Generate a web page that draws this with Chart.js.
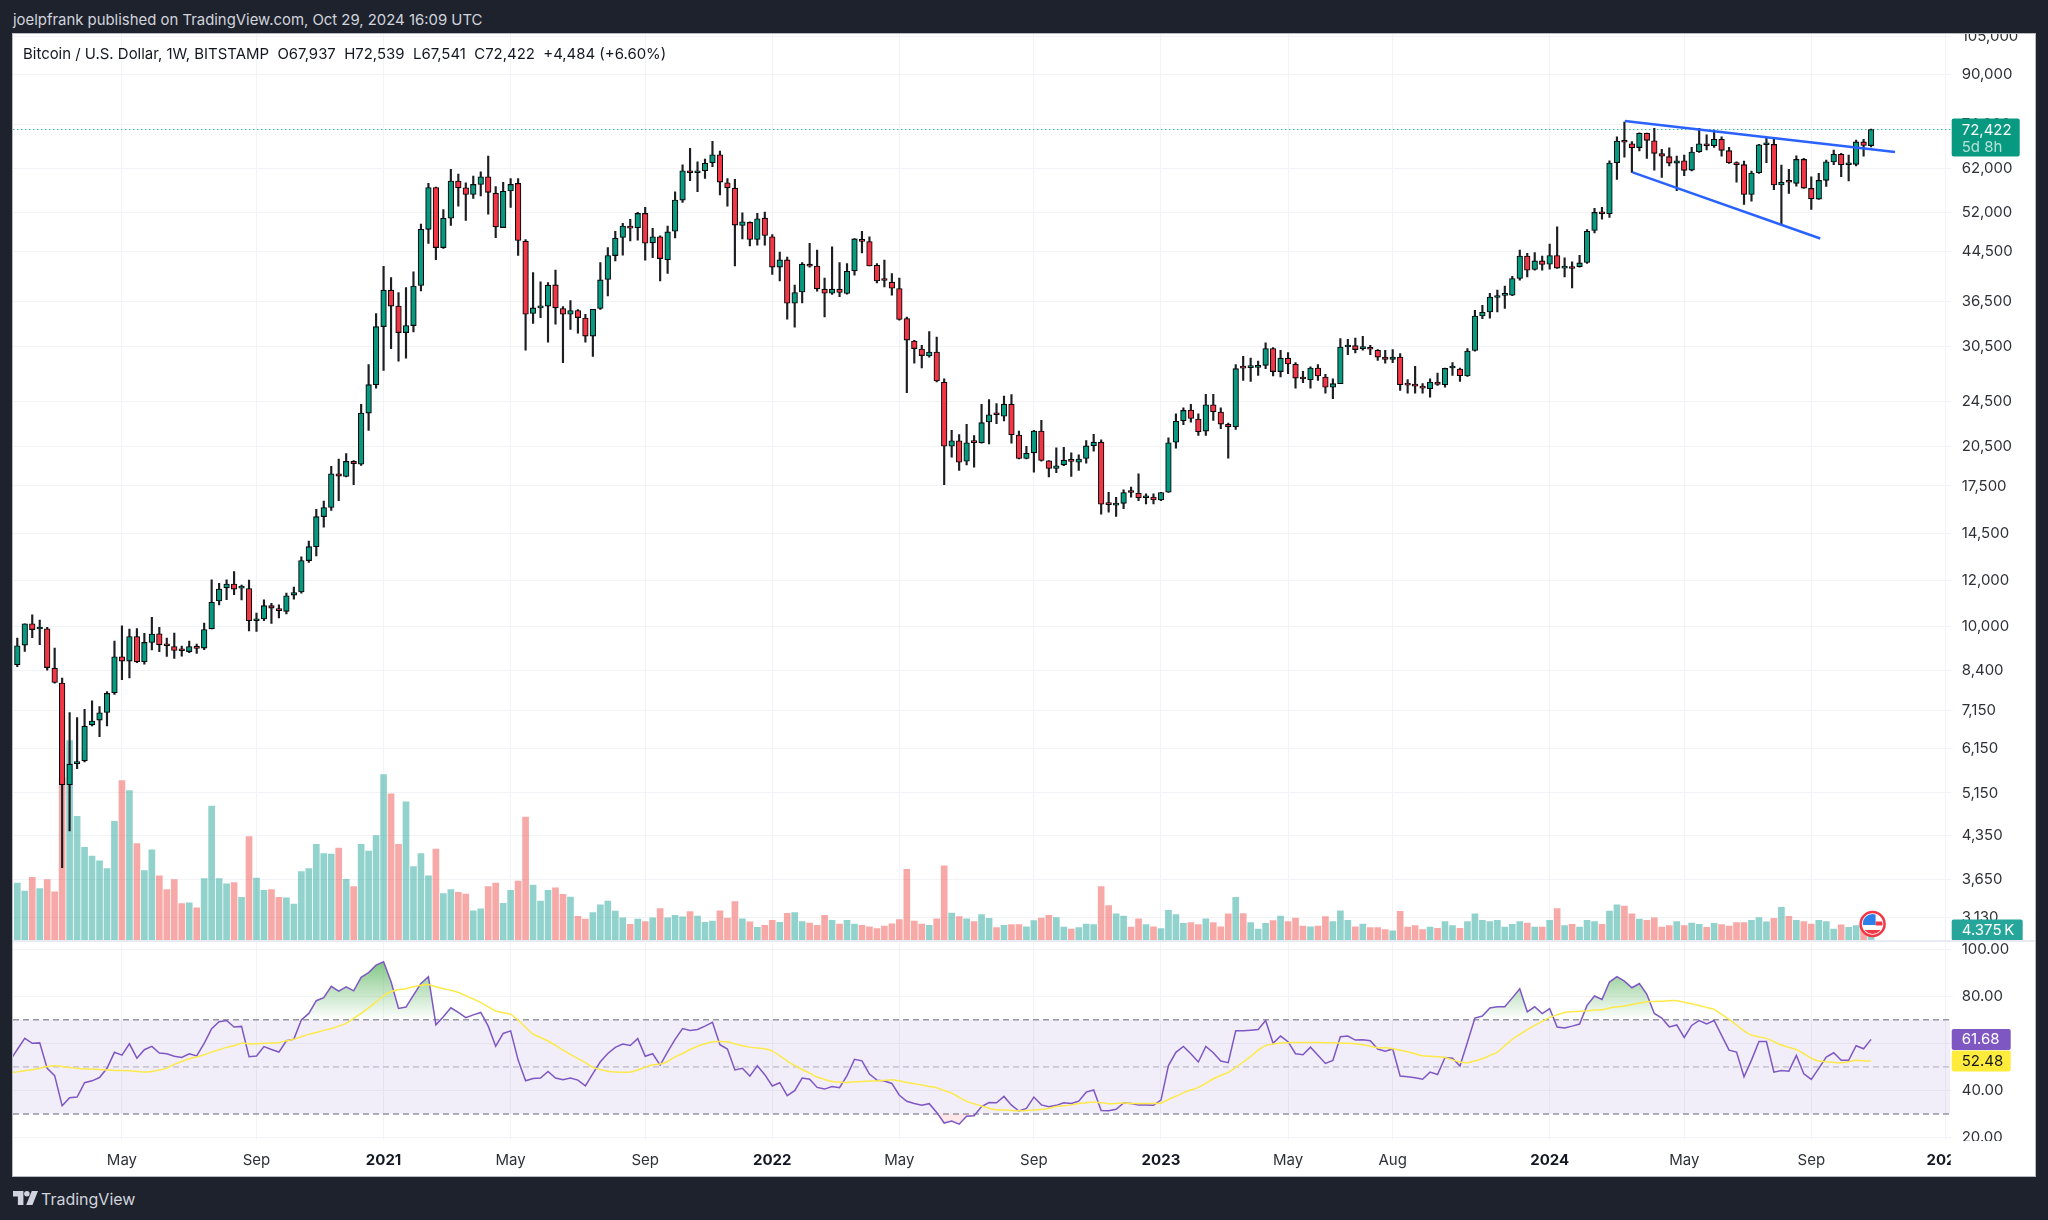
<!DOCTYPE html>
<html>
<head>
<meta charset="utf-8">
<title>Bitcoin / U.S. Dollar, 1W</title>
<script src="https://cdn.jsdelivr.net/npm/chart.js@4"></script>
<style>
    html, body { margin: 0; padding: 0; background: #1e222d; width: 2048px; height: 1220px; overflow: hidden; }
    body { font-family: Inter, "Noto Sans", sans-serif; position: relative; }
    #topLine { position: absolute; left: 13px; top: 11px; color: #d1d4dc; font-size: 14.9px; line-height: 18px; white-space: pre; }
    #pane { position: absolute; left: 13px; top: 34px; width: 2022px; height: 1142px; background: #fff; box-shadow: 0 0 0 1px #b8bac2; }
    #divider { position: absolute; left: 13px; top: 940px; width: 2022px; height: 2px; background: #e8ebf2; }
    canvas { position: absolute; left: 13px; }
    #priceCanvas { top: 34px; }
    #rsiCanvas { top: 942px; }
    #legendLine { position: absolute; left: 23px; top: 45px; color: #131722; font-size: 14.95px; line-height: 18px; white-space: pre; }
    #brand { position: absolute; left: 13px; top: 1189px; color: #d1d4dc; font-size: 16px; line-height: 20px; }
    #brand svg { position: absolute; left: 0; top: 2px; }
    #brand span { position: absolute; left: 28px; white-space: nowrap; }
</style>
</head>
<body>
<div id="topLine">joelpfrank published on TradingView.com, Oct 29, 2024 16:09 UTC</div>
<div id="pane"></div>
<canvas id="priceCanvas" width="2022" height="906"></canvas>
<div id="divider"></div>
<canvas id="rsiCanvas" width="2022" height="234"></canvas>
<div id="legendLine">Bitcoin / U.S. Dollar, 1W, BITSTAMP  O67,937  H72,539  L67,541  C72,422  +4,484 (+6.60%)</div>
<div id="brand">
    <svg width="25" height="14" viewBox="0 0 36 20"><path fill="#d1d4dc" d="M0 0h15v20H7V8H0z"/><circle fill="#d1d4dc" cx="20" cy="4" r="4"/><path fill="#d1d4dc" d="M27 0h9l-8 20h-9z"/></svg>
    <span>TradingView</span>
</div>

<script>
// Weekly candles, one entry per week, first week is 27 Jan 2020
const opens = [
    8583,9285,10107,9900,9905,8470,7980,5324,5790,5853,
    6756,6885,7096,7676,8860,8712,9606,8687,9382,9710,
    9295,9230,9100,9045,9246,9172,9905,11067,11664,11842,
    11650,11630,10230,10300,10865,10730,10620,11330,11470,13000,
    13740,15490,16060,18373,18180,19300,19090,23400,26200,33020,
    38180,35840,32240,33160,38900,48660,57490,45250,50850,58980,
    57410,55920,58190,59990,56200,49000,56700,58430,46410,34790,
    35580,35840,39000,35500,34690,35200,34170,31800,35500,39840,
    43830,47100,49300,48960,51840,46100,47230,43120,48290,54670,
    61450,60960,61450,63440,65500,58570,57340,49420,50020,46730,
    50880,47230,41860,43070,36240,37920,42350,42050,38340,37720,
    38340,37680,41240,46760,46360,42170,39760,39420,38440,34100,
    31180,30210,29370,29840,26450,20500,20950,19320,20840,20790,
    22580,23300,23110,24250,21440,19530,19970,21780,19350,18770,
    19040,19370,19240,19530,20550,20840,16270,16220,16330,17100,
    17000,16700,16750,16550,17070,20840,22700,23680,22850,21780,
    24190,23490,22370,22160,28050,28050,28080,28300,30260,27600,
    29120,28420,26950,26730,28000,27020,25940,26310,30450,30610,
    30250,30300,30050,29250,28980,29250,26200,26100,26050,25790,
    26480,26200,28000,27880,27120,30020,34450,35010,37080,37400,
    37430,40000,43760,41470,42910,42350,43830,41700,41860,41950,
    42640,48440,52180,51770,63430,69180,68430,67400,71330,69250,
    65780,65000,63350,63950,61620,66290,68430,67880,69640,66560,
    63280,62960,55920,60960,68150,68260,58050,58910,58430,64300,
    57270,54890,59140,63620,65600,62930,63030,68920,67937
];
const highs = [
    9545,10107,10469,10256,9960,9172,8138,7096,6952,7190,
    7436,7267,7716,9435,10025,9893,9915,9725,10365,9960,
    9550,9740,9246,9435,9320,10136,12040,11870,12040,12440,
    11793,12030,10550,11124,10960,10900,11420,11700,13200,14050,
    15950,16480,18930,19490,19920,19370,24220,28380,34790,42000,
    40150,37830,38580,41060,49670,58430,57600,52650,61820,60640,
    58570,60150,61200,65140,57720,58690,59580,59580,46730,40970,
    39470,39370,41350,35750,36630,35350,34690,35390,42640,45250,
    48290,49820,50620,52050,53100,48830,47400,49300,56520,62930,
    67180,63700,64390,69100,66480,59580,59380,51970,50140,51840,
    52110,47670,44420,43560,38950,42640,46000,44780,40060,45380,
    42640,42460,46910,48290,47230,42460,43030,40800,40050,34310,
    31270,30640,32370,31680,26820,21840,21470,22370,21400,24220,
    24680,24290,25030,25180,21780,20500,21840,22730,19370,20370,
    20420,19980,19810,20980,21490,21040,17070,16730,17240,17430,
    18370,16960,16960,17070,21200,23330,23900,24220,23330,25220,
    25220,23900,22490,28380,29340,29120,28790,30950,30380,30050,
    29770,28610,27630,28120,28380,27300,26820,31480,31400,31560,
    31770,30650,30130,30050,30130,29660,26730,28190,26310,26820,
    27450,28000,28610,28000,30250,35250,35940,37720,38180,38810,
    40330,44780,44200,44370,43760,45860,49140,43430,42740,43880,
    48630,52900,53100,63950,70350,74600,68990,71500,71400,72750,
    66930,67340,65150,65420,67440,72750,70900,72280,70350,67440,
    63700,63870,61380,68260,70050,70220,62870,61790,65230,64570,
    59990,60800,64130,66740,65860,65420,69460,69640,72539
];
const lows = [
    8523,9050,9565,9295,8400,7980,3823,4427,5672,5830,
    6729,6447,6729,7624,8090,8146,8652,8607,9110,9040,
    8870,8800,8885,9005,8980,9120,9905,10900,11124,11350,
    11110,9820,9800,10230,10120,10350,10510,11150,11420,12900,
    13250,14850,15870,16510,18150,17590,19000,21840,25840,27740,
    30240,28770,29120,32320,38070,46000,43120,45100,49420,53360,
    50400,55050,55590,51690,47090,48960,53100,43840,30050,33430,
    34230,31050,33330,28610,32670,32180,31050,29330,35350,37320,
    42910,43880,46470,46600,43030,43470,39620,40800,47020,54170,
    59040,56520,59580,62450,55800,53360,42050,46830,45540,45670,
    45670,40640,39620,34000,32960,36290,41860,38030,34310,37540,
    37190,37580,40530,44300,42050,39300,38700,37430,33870,25390,
    28560,28010,29250,26480,17590,19620,18620,19040,18870,20760,
    20700,22430,22670,20760,19490,19490,18490,19320,18150,18450,
    18970,18180,18620,19170,20100,15640,15760,15500,15980,16730,
    16510,16300,16300,16510,17050,20340,22340,22570,21400,21400,
    22730,22000,19550,21920,26660,26550,27190,27930,27120,27020,
    27380,25840,26420,25840,26660,25340,24780,26310,29540,29730,
    30050,29540,28870,28560,28590,25620,25340,25340,25340,24930,
    26130,25940,27190,26550,27090,29930,34100,34140,35010,35500,
    37360,39730,40260,41350,41350,41510,41620,40260,38530,41860,
    42460,47980,50680,51020,59370,64860,61050,66480,64570,61620,
    59820,62630,56740,60240,61380,66130,66740,67440,65150,63280,
    58690,53730,54450,60800,63440,57000,49620,56140,57790,57270,
    52650,54840,57720,62960,59990,58980,62630,65150,67541
];
const closes = [
    9258,10107,9875,9933,8489,7998,5324,5776,5830,6722,
    6858,7088,7658,8860,8712,9606,8687,9382,9700,9295,
    9258,9088,9077,9230,9160,9875,11008,11604,11842,11604,
    11700,10230,10270,10865,10760,10650,11300,11450,13000,13740,
    15490,16060,18373,18200,19300,19120,23400,26200,33020,38180,
    35840,32240,33160,38810,48660,57490,45250,50850,58980,57410,
    55920,58190,59990,56380,49140,56610,58190,46540,34690,35580,
    35840,38950,35580,34690,35200,34230,31800,35390,39780,43830,
    46970,49300,48900,51840,46040,47230,43310,48170,54670,61450,
    60960,61200,63290,65500,58740,57410,49480,50140,46730,50740,
    47490,41860,43070,36240,37830,42350,42000,38380,37720,38340,
    37830,41180,46830,46360,42050,39620,39680,38490,33970,31300,
    30250,29420,29840,26590,20500,20950,19240,20790,20800,22520,
    23240,23240,24250,21470,19530,19940,21780,19370,18770,18970,
    19400,19300,19490,20530,20840,16270,16250,16330,17050,17050,
    16690,16720,16550,17050,20790,22640,23650,22900,21730,24190,
    23530,22390,22160,27930,27990,28080,28220,30260,27600,29120,
    28450,26900,26800,28000,27120,25940,26310,30450,30650,30130,
    30300,30170,29250,28980,29250,26200,26150,26050,25840,26480,
    26240,27960,28010,27160,29970,34450,34970,37150,37300,37430,
    40000,43760,41350,42910,42300,43830,41700,41760,41620,42560,
    48290,52050,51770,63350,69180,68850,67310,71330,69360,65860,
    65110,63350,63950,61540,66210,68430,67880,69640,66660,63430,
    62960,55920,60880,68150,68350,58050,58690,58700,64300,57340,
    54950,59140,63700,65600,62930,63030,68920,67950,72422
];
// Volume in thousands
const volumes = [
    24.9,21.4,27.4,22.5,26.4,21.1,71,87.2,54.1,40.5,
    36.7,34.6,31.2,51.9,69.7,65.3,42.1,30.3,39.4,28.1,
    22,26.4,15.9,16.2,14.1,26.8,58.5,26.8,24.5,25.1,
    18.7,45.2,27.1,21.7,22,18.7,18.4,15.7,29.9,31.2,
    41.8,37.8,37.5,40.2,26.5,23.3,41.8,38.9,45.6,72.3,
    63.9,41.8,60.4,32.1,37.8,28.1,39.7,20.3,22,20.8,
    20.1,12.7,13.6,23.3,24.9,16,21.7,25.7,53.7,24,
    17,21.7,22.8,20,18.8,10.3,9.1,12,15.4,17,
    12.6,9.7,6.9,9.1,8,9.7,13.7,9.7,10.8,10.1,
    12.4,10.5,7.7,8.3,12.7,9.6,16.8,9.2,7.9,5.5,
    6.4,8.6,7.7,11.7,12,8,7.4,6.4,10.8,8.6,
    7,8.6,7,6.4,5.8,5,6.1,7.1,8.9,30.9,
    8.3,7,6.4,9.2,32.4,11.8,10.2,9.3,8,11.1,
    9.5,5.4,6.4,6.7,6.7,5.8,8.5,9.6,10.8,9.8,
    5.7,4.8,5.4,7,6.7,23.3,15,11.4,10.5,5.7,
    9.2,6.7,5.8,5,13,11.1,7.3,7.6,6.7,9.2,
    7.6,5.8,11.4,18.7,11.5,7.6,4.8,7.3,8.5,10.5,
    8,9.6,6.1,5.8,6.1,10.2,8,12.7,8.6,5.8,
    7,5.4,5.4,4.6,4,12.5,5.7,6.3,4.6,5.7,
    5.1,8,6.3,5.1,8,11.4,8.6,8,8.6,5.7,
    6.8,8,7.4,5.7,5.7,8.6,13.7,6.3,6.8,5.7,
    8.6,8,6.8,12.6,15.4,14.8,11.4,9.1,8.6,9.7,
    5.7,6.3,8,6.3,7.4,6.8,5.5,7.3,6.7,6.1,
    7.6,7.6,8.6,9.8,7.9,9.5,14.3,10.4,8.6,8,
    7,8.6,8,4.8,6.6,5.5,6.3,5.5,4.375
];
const rsiValues = [
    57.4,62.1,60,60.2,49.4,46.3,33.5,36.9,37.2,43.3,
    44.1,45.5,49.4,56.2,55,59.8,53.7,57.3,58.7,55.9,
    55.6,54.5,54,55.6,54.7,60,66.2,69.2,69.7,66.9,
    67.2,54.3,54.6,58.6,57.4,56.3,61.1,61.8,69.9,72.7,
    78.1,79.4,84.2,82.2,84,82.3,88,90,93.2,94.6,
    86.1,74.8,75.4,80.5,85.4,88.3,67.9,71.3,75.1,73.1,
    70.9,72.1,73.1,67.3,58.8,64.2,65.3,52.9,44.1,45.1,
    45.3,48.1,45.3,44.6,45.3,44.4,42,47.2,52.2,55.7,
    58.3,59.7,59.1,62,54.5,55.6,50.8,56.4,61.7,66.3,
    65.5,65.9,67.3,68.9,59.4,57.6,48.7,49.4,46.1,50.5,
    46.7,41.9,43.3,37.8,39.9,45.3,44.8,41.3,40.6,41.7,
    41.2,46.3,53.2,52.6,47,44.4,44,43,38,35.4,
    34.5,33.7,34.4,30.7,26.2,27,25.7,29.1,29.3,33.2,
    34.9,34.8,37.5,33.8,31.3,32.4,37.2,33.9,33.1,33.7,
    34.8,34.5,35.5,39.3,40.2,31.5,31.4,32,34.7,34.5,
    33.8,33.9,33.7,35.9,50.6,56.2,58.7,55.6,52.1,58.7,
    56,52.5,51.8,65.3,65.3,65.6,65.9,69.7,60,63.1,
    60.7,55.6,55.2,58.4,55,51.5,52.8,62.8,63.1,61.4,
    61.5,61.1,57.6,56.7,57.6,46.1,45.8,45.4,44.8,47.8,
    46.8,54,53.7,50.4,60.5,70.7,71.6,75,75.5,75.5,
    79.3,83.2,73.4,75.5,72.6,74.7,66.9,66.5,67.3,68.2,
    76.1,80.1,78.6,86,88.3,86.4,83.6,85.4,80.8,72.7,
    70.7,67,67.8,62.5,67.6,69.7,68.2,69.7,63.4,57.1,
    56.3,45.8,52.9,60.8,60.8,47.8,48.5,48.2,54.9,47.1,
    44.7,49.4,54.2,56,52.8,52.8,59,57.7,61.68
];
const rsiMa = [
    47.9,48.4,48.8,49.4,50.2,50.5,50.2,49.8,49.4,49.1,
    49.1,48.9,48.7,48.5,48.5,48.4,48.1,47.8,48.1,48.7,
    49.5,51.1,52.3,53.5,54.2,55.2,56.3,57.3,58.3,59,
    60.1,59.8,59.8,60,60.1,60.3,61.1,61.8,62.8,63.8,
    64.6,65.5,66.3,67.3,68.5,70.6,72.7,75.1,77.5,80.2,
    81.9,82.7,83.2,84,84.7,85,84,83.2,82.5,81.6,
    80.2,78.8,77.4,75.5,73.7,73,72.3,69.9,66.8,63.9,
    62.5,61,59.1,57.1,55.3,53.5,51.8,49.8,48.9,48.2,
    47.8,47.7,47.8,48.7,49.9,50.9,51.2,52.3,54.3,55.7,
    57.4,58.8,59.8,60.7,60.8,60.7,59.8,59,58.4,58,
    57.7,56.7,54.7,52.5,50.6,48.9,47.4,45.7,44.7,43.8,
    43.6,43.4,43.7,43.8,44,44,44.3,44.6,44.1,43.4,
    42.9,42.3,41.7,41.2,40,38.9,37.1,35.4,34.4,33.4,
    32.5,31.8,31.7,31.5,31.4,31.5,31.7,32,32.4,33.2,
    33.5,33.9,34.5,34.8,35.1,34.8,34.4,34.5,34.7,34.5,
    34.5,34.5,34.5,34.7,36.2,37.6,39,40.2,41.3,43,
    45,46.4,47.7,49.8,52.1,54.5,57.1,59.1,59.7,60.1,
    60.3,60.4,60.4,60.4,60.4,60.3,60.3,60.1,60,59.8,
    59.4,58.8,58.1,58.1,57.7,57.1,56.4,55.6,54.7,54.5,
    54.3,54,53,52.1,51.8,52.6,53.5,54.9,56.3,59,
    61.7,63.8,65.8,67.6,69.3,71,72.1,73.1,73.4,73.6,
    73.8,74.1,74.3,75,75.5,75.8,76.5,77.1,77.7,77.8,
    77.9,78.1,78.1,77.4,76.8,76.1,75.2,74.4,72.3,70.2,
    67.8,65.3,63.5,62.8,62.1,60.7,59.3,58.3,57.4,55.6,
    53.7,52.5,52.2,51.9,51.8,52.2,52.8,52.6,52.48
];
// The week just left of the visible range, its lines run in from the pane edge
const rsiBeforeFirst = 52.6, rsiMaBeforeFirst = 47.5;

// Axis ticks
const priceTicks = [105000,90000,74000,62000,52000,44500,36500,30500,24500,20500,17500,14500,12000,10000,8400,7150,6150,5150,4350,3650,3130];
const rsiTicks = [100,80,60,40,20];
const timeTickWeeks = [14,32,49,66,84,101,118,136,153,170,184,205,223,240,258];
const timeTickLabels = ['May','Sep','2021','May','Sep','2022','May','Sep','2023','May','Aug','2024','May','Sep','2025'];

// Trend lines drawn on the chart, [week, price]
const upperTrend = [[215.05,74920],[251.2,66210]];
const lowerTrend = [[216.1,61050],[241.2,46920]];

// RSI levels
const rsiUpper = 70, rsiMiddle = 50, rsiLower = 30;

// Visible ranges
const weekMin = -0.575, weekMax = 258.65;
const priceMin = 2867, priceMax = 105960;
const volumeMax = 396;
const rsiMin = 19, rsiMax = 103;

const upColor = '#089981', downColor = '#f23645';
const gridColor = '#f2f3f6';
const tickFont = { family: 'Inter', size: 15 };
const tickColor = '#2e3138';
const lastIndex = closes.length - 1;

function roundRect(ctx, x, y, w, h, color) {
    ctx.fillStyle = color;
    ctx.beginPath();
    ctx.roundRect(x, y, w, h, 2);
    ctx.fill();
}

function horizontalLine(value) {
    return [{ x: weekMin, y: value }, { x: weekMax, y: value }];
}

function toPoints(line) {
    return line.map(p => ({ x: p[0], y: p[1] }));
}

function rsiPoints(values, before) {
    return [{ x: -1, y: before }].concat(values.map((v, i) => ({ x: i, y: v })));
}

// Right axis keeps a fixed width and no label padding, so the plot fills the pane
function fitRightAxis(axis) {
    axis.width = 84.3;
    axis.paddingTop = 0;
    axis.paddingBottom = 0;
}

// Price labels, flag marker for the last bar
const priceTags = {
    id: 'priceTags',
    afterDraw(chart) {
        const ctx = chart.ctx;
        const area = chart.chartArea;
        const y = chart.scales.y.getPixelForValue(closes[lastIndex]);
        const volY = chart.scales.volume.getPixelForValue(volumes[lastIndex]);
        const left = area.right + 1;

        // cover whatever tick label sits behind the tags
        roundRect(ctx, left, y - 11, 68, 38, upColor);
        ctx.textBaseline = 'middle';
        ctx.textAlign = 'left';
        ctx.font = '15px Inter';
        ctx.fillStyle = '#ffffff';
        ctx.fillText('72,422', left + 10, y + 1);
        ctx.fillStyle = 'rgba(255,255,255,0.7)';
        ctx.fillText('5d 8h', left + 10, y + 18);

        roundRect(ctx, left, volY - 10.5, 71, 21, '#26a69a');
        ctx.fillStyle = '#ffffff';
        ctx.fillText('4.375\u2009K', left + 10, volY + 0.5);

        // little US flag event marker
        const fx = chart.scales.x.getPixelForValue(lastIndex) + 1.5;
        const fy = area.bottom - 16;
        ctx.save();
        ctx.beginPath();
        ctx.arc(fx, fy, 12, 0, Math.PI * 2);
        ctx.fillStyle = '#ffffff';
        ctx.fill();
        ctx.lineWidth = 2.5;
        ctx.strokeStyle = downColor;
        ctx.stroke();
        ctx.beginPath();
        ctx.arc(fx, fy, 10, 0, Math.PI * 2);
        ctx.clip();
        ctx.fillStyle = downColor;
        ctx.fillRect(fx + 3, fy - 2.5, 9, 4);
        ctx.fillRect(fx - 10, fy + 6, 20, 4);
        ctx.fillStyle = '#2f7fe8';
        ctx.fillRect(fx - 10, fy - 10, 13, 11);
        ctx.restore();
    }
};

const rsiTags = {
    id: 'rsiTags',
    afterDraw(chart) {
        const ctx = chart.ctx;
        const area = chart.chartArea;
        const left = area.right + 1;

        // labels stop at the axis edge, same as the time scale cut
        ctx.fillStyle = '#ffffff';
        ctx.fillRect(area.right, area.bottom + 1, chart.width - area.right, chart.height - area.bottom);

        const y1 = chart.scales.y.getPixelForValue(rsiValues[lastIndex]);
        const y2 = chart.scales.y.getPixelForValue(rsiMa[lastIndex]);
        roundRect(ctx, left, y1 - 10.5, 59, 21, '#7e57c2');
        roundRect(ctx, left, y2 - 10.5, 59, 21, '#ffeb3b');
        ctx.textBaseline = 'middle';
        ctx.textAlign = 'left';
        ctx.font = '15px Inter';
        ctx.fillStyle = '#ffffff';
        ctx.fillText('61.68', left + 10, y1 + 0.5);
        ctx.fillStyle = '#131722';
        ctx.fillText('52.48', left + 10, y2 + 0.5);
    }
};

// Price pane: candles, volume and the drawn lines
const priceChart = new Chart(document.getElementById('priceCanvas'), {
    data: {
        datasets: [
            {
                type: 'line',
                data: toPoints(upperTrend),
                borderColor: '#2962ff',
                borderWidth: 2.5,
                pointRadius: 0,
                order: 0
            },
            {
                type: 'line',
                data: toPoints(lowerTrend),
                borderColor: '#2962ff',
                borderWidth: 2.5,
                pointRadius: 0,
                order: 0
            },
            {
                type: 'bar',
                data: closes.map((c, i) => ({ x: i, y: [opens[i], c] })),
                backgroundColor: closes.map((c, i) => c >= opens[i] ? upColor : downColor),
                borderColor: '#050708',
                borderWidth: 1.1,
                borderSkipped: false,
                barThickness: 5.6,
                minBarLength: 2,
                grouped: false,
                order: 1
            },
            {
                type: 'bar',
                data: closes.map((c, i) => ({ x: i, y: [lows[i], highs[i]] })),
                backgroundColor: '#1c1e22',
                borderWidth: 0,
                barThickness: 1.5,
                grouped: false,
                order: 2
            },
            {
                type: 'line',
                data: horizontalLine(closes[lastIndex]),
                borderColor: '#35b59c',
                borderWidth: 1.2,
                borderDash: [1.5, 2.5],
                pointRadius: 0,
                order: 3
            },
            {
                type: 'bar',
                yAxisID: 'volume',
                data: volumes.map((v, i) => ({ x: i, y: v })),
                backgroundColor: closes.map((c, i) => c >= opens[i] ? 'rgba(38,166,154,0.5)' : 'rgba(239,83,80,0.5)'),
                borderWidth: 0,
                barThickness: 6,
                grouped: false,
                order: 4
            }
        ]
    },
    options: {
        responsive: false,
        animation: false,
        layout: { autoPadding: false, padding: 0 },
        plugins: { legend: { display: false }, tooltip: { enabled: false } },
        scales: {
            x: {
                type: 'linear',
                offset: false,
                min: weekMin,
                max: weekMax,
                afterBuildTicks: axis => { axis.ticks = timeTickWeeks.map(v => ({ value: v })); },
                afterFit: axis => { axis.height = 0; },
                ticks: { display: false },
                grid: { color: gridColor, drawTicks: false, offset: false },
                border: { display: false }
            },
            y: {
                type: 'logarithmic',
                position: 'right',
                min: priceMin,
                max: priceMax,
                afterBuildTicks: axis => { axis.ticks = priceTicks.map(v => ({ value: v })); },
                afterFit: fitRightAxis,
                ticks: {
                    autoSkip: false,
                    color: tickColor,
                    font: tickFont,
                    padding: 11,
                    callback: v => Number(v).toLocaleString('en-US')
                },
                grid: { color: gridColor, drawTicks: false },
                border: { display: false }
            },
            volume: {
                type: 'linear',
                display: false,
                position: 'right',
                min: 0,
                max: volumeMax
            }
        }
    },
    plugins: [priceTags]
});

// RSI pane
const rsiDataset = {
    data: rsiPoints(rsiValues, rsiBeforeFirst),
    borderColor: '#7e57c2',
    borderWidth: 1.5,
    pointRadius: 0,
    tension: 0,
    fill: { target: { value: rsiUpper }, above: 'rgba(76,175,80,0.4)', below: 'rgba(0,0,0,0)' },
    order: 1
};

const rsiChart = new Chart(document.getElementById('rsiCanvas'), {
    type: 'line',
    data: {
        datasets: [
            {
                data: rsiPoints(rsiMa, rsiMaBeforeFirst),
                borderColor: '#fdea4a',
                borderWidth: 1.5,
                pointRadius: 0,
                tension: 0.2,
                order: 0
            },
            rsiDataset,
            {
                data: rsiPoints(rsiValues, rsiBeforeFirst),
                borderWidth: 0,
                pointRadius: 0,
                fill: { target: { value: rsiLower }, above: 'rgba(0,0,0,0)', below: 'rgba(242,54,69,0.12)' },
                order: 2
            },
            {
                data: horizontalLine(rsiUpper),
                borderColor: '#9598a1',
                borderWidth: 1.5,
                borderDash: [6, 4],
                pointRadius: 0,
                fill: { target: { value: rsiLower }, above: 'rgba(126,87,194,0.1)', below: 'rgba(0,0,0,0)' },
                order: 3
            },
            {
                data: horizontalLine(rsiMiddle),
                borderColor: '#b2b5be',
                borderWidth: 1,
                borderDash: [6, 4],
                pointRadius: 0,
                order: 3
            },
            {
                data: horizontalLine(rsiLower),
                borderColor: '#9598a1',
                borderWidth: 1.5,
                borderDash: [6, 4],
                pointRadius: 0,
                order: 3
            }
        ]
    },
    options: {
        responsive: false,
        animation: false,
        layout: { autoPadding: false, padding: 0 },
        plugins: { legend: { display: false }, tooltip: { enabled: false } },
        scales: {
            x: {
                type: 'linear',
                min: weekMin,
                max: weekMax,
                afterBuildTicks: axis => { axis.ticks = timeTickWeeks.map(v => ({ value: v })); },
                afterFit: axis => { axis.height = 36; },
                ticks: {
                    autoSkip: false,
                    maxRotation: 0,
                    padding: 11,
                    color: ctx => /^\d/.test(timeTickLabels[ctx.index]) ? '#131722' : tickColor,
                    font: ctx => ({ family: 'Inter', size: 15, weight: /^\d/.test(timeTickLabels[ctx.index]) ? '700' : '400' }),
                    callback: (v, i) => timeTickLabels[i]
                },
                grid: { color: gridColor, drawTicks: false },
                border: { display: false }
            },
            y: {
                position: 'right',
                min: rsiMin,
                max: rsiMax,
                afterBuildTicks: axis => { axis.ticks = rsiTicks.map(v => ({ value: v })); },
                afterFit: fitRightAxis,
                ticks: {
                    autoSkip: false,
                    color: tickColor,
                    font: tickFont,
                    padding: 11,
                    callback: v => Number(v).toFixed(2)
                },
                grid: { color: gridColor, drawTicks: false },
                border: { display: false }
            }
        }
    },
    plugins: [rsiTags]
});

// Green fade above the overbought line needs real pixel positions
const rsiScale = rsiChart.scales.y;
const overbought = rsiChart.ctx.createLinearGradient(0, rsiScale.getPixelForValue(100), 0, rsiScale.getPixelForValue(rsiUpper));
overbought.addColorStop(0, 'rgba(76,175,80,0.85)');
overbought.addColorStop(1, 'rgba(76,175,80,0)');
rsiDataset.fill.above = overbought;
rsiChart.update('none');
</script>
</body>
</html>
